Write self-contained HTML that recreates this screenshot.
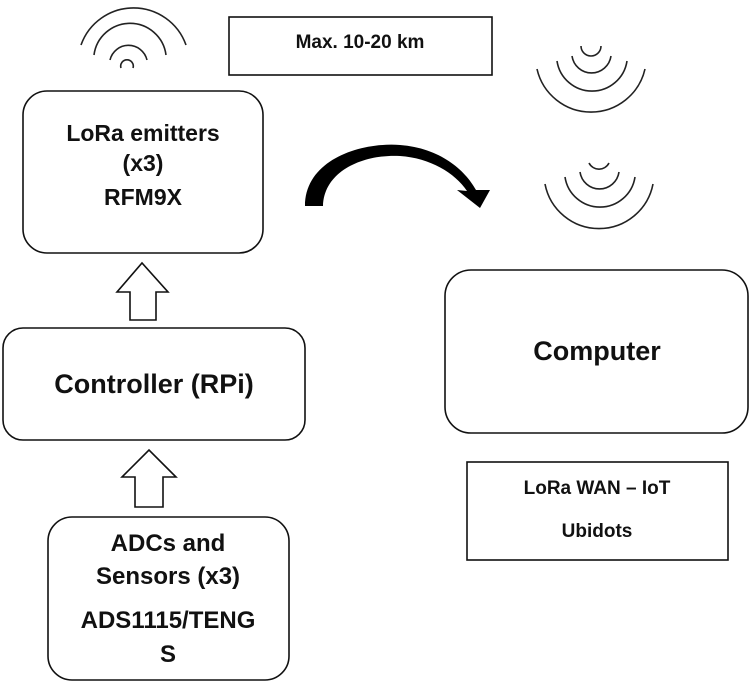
<!DOCTYPE html>
<html><head><meta charset="utf-8"><style>
body{margin:0;background:#fff;}
svg{display:block;}
text{font-family:"Liberation Sans",sans-serif;font-weight:bold;fill:#111;text-anchor:middle;}
</style></head><body>
<svg width="752" height="685" viewBox="0 0 752 685" xmlns="http://www.w3.org/2000/svg">
<g fill="none" stroke="#222" stroke-width="1.6">
<path d="M81,45 A55.7,55.7 0 0 1 186,45"/>
<path d="M94,55 A36.3,36.3 0 0 1 166,55"/>
<path d="M110,60 A19,19 0 0 1 147,60"/>
<path d="M121,68 A6.3,6.3 0 1 1 133,68"/>
<path d="M537,69 A55.4,55.4 0 0 0 645,69"/>
<path d="M557,61 A35.4,35.4 0 0 0 627,61"/>
<path d="M572,56 A19.7,19.7 0 0 0 611,56"/>
<path d="M581,46 A10,10 0 0 0 601,46"/>
<path d="M545,184 A55,55 0 0 0 653,184"/>
<path d="M565,177 A35.4,35.4 0 0 0 635,177"/>
<path d="M580,172 A19.7,19.7 0 0 0 619,172"/>
<path d="M589,163 A11.2,11.2 0 0 0 609,163"/>
</g>
<g fill="#fff" stroke="#111" stroke-width="1.6">
<rect x="229" y="17" width="263" height="58"/>
<rect x="23" y="91" width="240" height="162" rx="24"/>
<rect x="3" y="328" width="302" height="112" rx="20"/>
<rect x="48" y="517" width="241" height="163" rx="24"/>
<rect x="445" y="270" width="303" height="163" rx="26"/>
<rect x="467" y="462" width="261" height="98"/>
<path d="M130,320 L130,292 L117,292 L142,263 L168,292 L156,292 L156,320 Z"/>
<path d="M135,507 L135,477 L122,477 L149,450 L176,477 L163,477 L163,507 Z"/>
</g>
<path fill="#000" d="M305,206 C305,160 360,142 400,145 C440,148 465,170 476,190 L490,190 L480,208 L457,190 L467,191 C455,173 430,158 400,156 C365,154 324,170 323,206 Z"/>
<text x="360" y="48" font-size="19">Max. 10-20 km</text>
<text x="143" y="141" font-size="23">LoRa emitters</text>
<text x="143" y="171" font-size="23">(x3)</text>
<text x="143" y="205" font-size="23">RFM9X</text>
<text x="154" y="393" font-size="27">Controller (RPi)</text>
<text x="168" y="551" font-size="24">ADCs and</text>
<text x="168" y="584" font-size="24">Sensors (x3)</text>
<text x="168" y="628" font-size="24">ADS1115/TENG</text>
<text x="168" y="662" font-size="24">S</text>
<text x="597" y="360" font-size="27">Computer</text>
<text x="597" y="494" font-size="19">LoRa WAN – IoT</text>
<text x="597" y="537" font-size="19">Ubidots</text>
</svg>
</body></html>
